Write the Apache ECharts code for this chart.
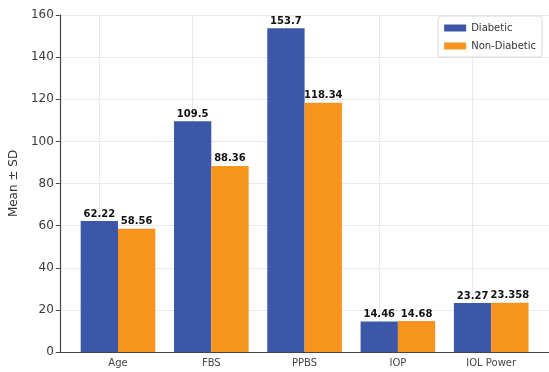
<!DOCTYPE html>
<html>
<head>
<meta charset="utf-8">
<script src="https://cdn.jsdelivr.net/npm/echarts@6/dist/echarts.min.js"></script>
<style>
  html, body { margin: 0; padding: 0; background: #fff; }
  #chart { width: 549px; height: 372px; }
</style>
</head>
<body>
<div id="chart"></div>
<script>
// Mean values per parameter, diabetic vs non-diabetic groups
const categories = ['Age', 'FBS', 'PPBS', 'IOP', 'IOL Power'];
const diabetic = [62.22, 109.5, 153.7, 14.46, 23.27];
const nonDiabetic = [58.56, 88.36, 118.34, 14.68, 23.358];
const yTicks = { min: 0, max: 160, interval: 20 };

const BLUE = '#3c56a8';
const ORANGE = '#f7941d';
const GRID_COLOR = '#e6e9ef';
const FONT = 'DejaVu Sans';

const chart = echarts.init(document.getElementById('chart'));

const valueLabel = {
  show: true,
  position: 'top',
  distance: 2,
  fontFamily: FONT,
  fontSize: 10,
  fontWeight: 'bold',
  color: '#111',
  formatter: p => String(p.value)
};

chart.setOption({
  animation: false,
  textStyle: { fontFamily: FONT },
  grid: [
    // frame: axes, ticks and horizontal grid lines
    { left: 58, right: 0, top: 15, bottom: 20 },
    // bars
    { left: 71.35, right: 11.15, top: 15, bottom: 20 }
  ],
  xAxis: [
    {
      gridIndex: 0, type: 'value', min: 0, max: 1,
      axisLine: { show: true, onZero: false, lineStyle: { color: '#444', width: 1.2 } },
      axisTick: { show: false }, axisLabel: { show: false }, splitLine: { show: false }
    },
    {
      gridIndex: 1, type: 'category', data: categories,
      axisLine: { show: false },
      axisTick: { show: false },
      axisLabel: { color: '#444', fontSize: 10, margin: 6, fontFamily: FONT },
      splitLine: { show: false }
    }
  ],
  yAxis: [
    {
      gridIndex: 0, type: 'value',
      min: yTicks.min, max: yTicks.max, interval: yTicks.interval,
      name: 'Mean ± SD', nameLocation: 'middle', nameGap: 31,
      nameTextStyle: { color: '#333', fontSize: 12, fontFamily: FONT },
      axisLine: { show: true, lineStyle: { color: '#444', width: 1.2 } },
      axisTick: { show: true, length: 4, lineStyle: { color: '#444' } },
      axisLabel: { color: '#3a3a3a', fontSize: 12, margin: 6, fontFamily: FONT },
      splitLine: { show: true, lineStyle: { color: GRID_COLOR, width: 1 } }
    },
    {
      gridIndex: 1, type: 'value',
      min: yTicks.min, max: yTicks.max, interval: yTicks.interval,
      axisLine: { show: false }, axisTick: { show: false },
      axisLabel: { show: false }, splitLine: { show: false }
    }
  ],
  legend: {
    right: 7, top: 16,
    orient: 'vertical',
    icon: 'rect',
    itemWidth: 22, itemHeight: 7, itemGap: 8,
    padding: [7, 6, 6, 6],
    borderColor: '#d9d9d9', borderWidth: 1, borderRadius: 3,
    backgroundColor: '#fff',
    textStyle: { color: '#333', fontSize: 10, fontFamily: FONT },
    data: ['Diabetic', 'Non-Diabetic']
  },
  series: [
    {
      name: 'Diabetic', type: 'bar', xAxisIndex: 1, yAxisIndex: 1,
      data: diabetic, barGap: '0%', barCategoryGap: '20%',
      itemStyle: { color: BLUE },
      label: valueLabel,
      z: 3,
      markLine: {
        silent: true, symbol: 'none', z: 1,
        label: { show: false },
        lineStyle: { color: GRID_COLOR, width: 1, type: 'solid' },
        data: categories.map(c => ({ xAxis: c }))
      }
    },
    {
      name: 'Non-Diabetic', type: 'bar', xAxisIndex: 1, yAxisIndex: 1,
      data: nonDiabetic, barGap: '0%', barCategoryGap: '20%',
      itemStyle: { color: ORANGE },
      label: valueLabel,
      z: 3
    }
  ]
});
</script>
</body>
</html>
